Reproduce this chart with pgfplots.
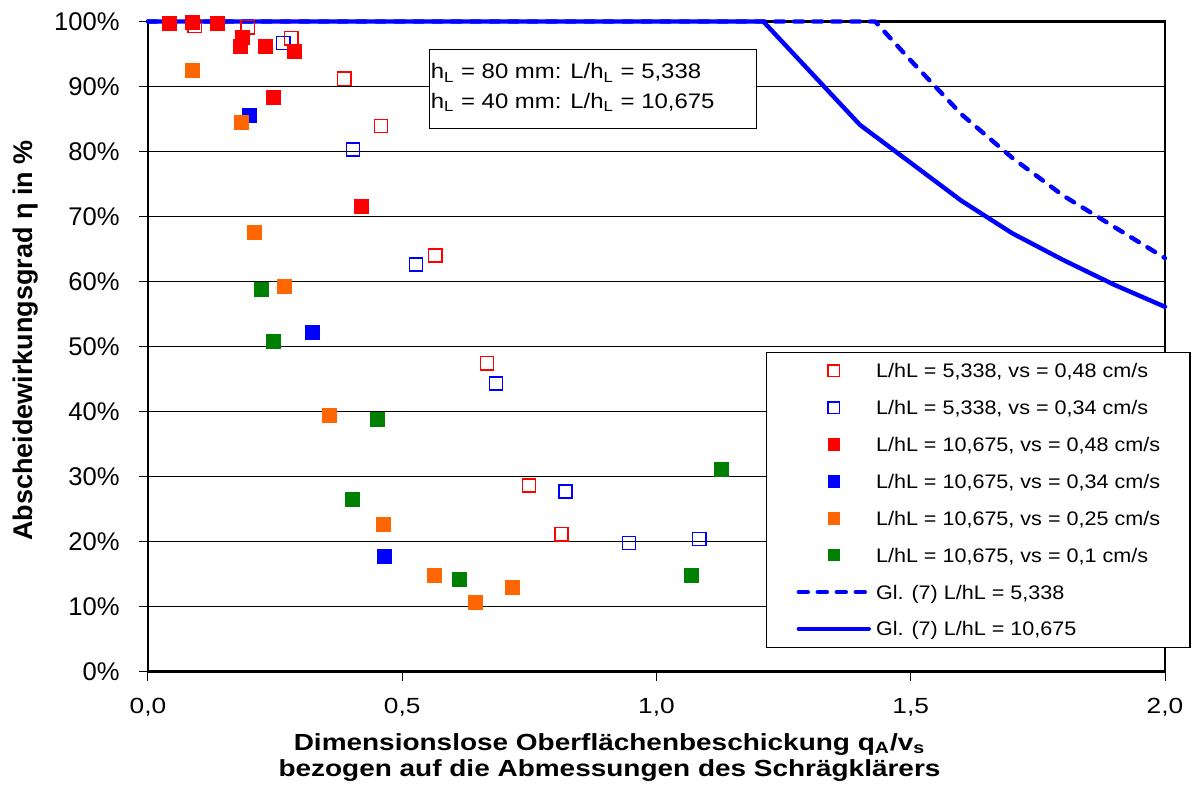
\documentclass[border=0pt]{standalone}
\usepackage{fontspec}
\setmainfont{Liberation Sans}
\newfontfamily\fA[FakeStretch=1.14]{Liberation Sans}
\newfontfamily\fL[FakeStretch=1.1]{Liberation Sans}
\newfontfamily\fX[FakeStretch=1.2]{Liberation Sans}
\usepackage{pgfplots}
\pgfplotsset{compat=1.18}
\definecolor{xlred}{RGB}{255,0,0}
\definecolor{xlblue}{RGB}{0,0,255}
\definecolor{xlorange}{RGB}{255,102,0}
\definecolor{xlgreen}{RGB}{0,128,0}
\begin{document}
\begin{tikzpicture}
\begin{axis}[
  at={(0,0)}, anchor=south west,
  scale only axis, width=508.5pt, height=325pt,
  xmin=0, xmax=2, ymin=0, ymax=100,
  clip=false,
  axis line style={black, line width=1.2pt},
  xtick={0,0.5,1,1.5,2},
  xticklabels={{0,0},{0,5},{1,0},{1,5},{2,0}},
  ytick={0,10,20,30,40,50,60,70,80,90,100},
  yticklabels={0\%,10\%,20\%,30\%,40\%,50\%,60\%,70\%,80\%,90\%,100\%},
  tick align=outside, xtick pos=left, ytick pos=left,
  major tick length=4.5pt,
  tick style={black, line width=0.5pt},
  ymajorgrids, major grid style={black, line width=0.5pt},
  yticklabel style={font=\fontsize{12.8}{14}\selectfont, anchor=east, inner sep=0pt, xshift=-9.5pt},
  xticklabel style={font=\fX\fontsize{10.95}{12}\selectfont, anchor=north, inner sep=0pt, yshift=-8.75pt},
  xlabel={Dimensionslose Oberflächenbeschickung q\textsubscript{A}/v\textsubscript{s}\\bezogen auf die Abmessungen des Schrägklärers},
  xlabel style={at={(axis description cs:0.4538,0)}, anchor=north, yshift=-30.75pt, inner sep=0pt, align=center, font=\fX\bfseries\fontsize{11.65}{13}\selectfont},
  ylabel={Abscheidewirkungsgrad η in \%},
  ylabel style={at={(axis description cs:-0.1131,0.509)}, anchor=base, rotate=0, inner sep=0pt, font=\bfseries\fontsize{13.5}{16}\selectfont},
  legend style={
    at={(0.6077,0.4920)}, anchor=north west,
    draw=black, line width=0.6pt, fill=white,
    inner xsep=15pt, inner ysep=0pt,
    row sep=0pt, column sep=2.5pt,
    font=\fL\fontsize{9.8}{11}\selectfont,
    nodes={inner xsep=0pt, inner ysep=4.72pt, text height=8pt, text depth=1pt},
  },
  legend cell align=left,
  legend image code/.code={\draw[mark repeat=2,mark phase=2,#1,mark size=2.9pt] plot coordinates {(0pt,0pt)(17.5pt,0pt)(35pt,0pt)};},
]
% model curves (drawn first, behind the markers)
\addplot[forget plot, xlblue, line width=2.2pt, line cap=round, line join=round, dash pattern=on 4.5pt off 5pt]
  coordinates {(0,100)(1.43,100)(1.5,94.0)(1.6,85.7)(1.7,79.0)(1.8,73.2)(1.9,68.4)(2.0,63.6)};
\addplot[forget plot, xlblue, line width=2.2pt, line cap=round, line join=round]
  coordinates {(0,100)(1.21,100)(1.40,84.1)(1.60,72.4)(1.70,67.4)(1.80,63.3)(1.90,59.5)(2.00,56.1)};
% L/hL = 5,338, vs = 0,48
\addplot[only marks, mark=square, mark size=3.3pt, line width=0.7pt, xlred, mark options={solid}]
  coordinates {(0.092,99.3)(0.196,99.1)(0.282,97.4)(0.386,91.2)(0.458,83.9)(0.565,64.0)(0.667,47.4)(0.749,28.6)(0.813,21.1)};
\addlegendentry{L/hL = 5,338, vs = 0,48 cm/s}
% L/hL = 5,338, vs = 0,34
\addplot[only marks, mark=square, mark size=3.3pt, line width=0.7pt, xlblue, mark options={solid}]
  coordinates {(0.266,96.7)(0.403,80.3)(0.527,62.6)(0.684,44.3)(0.821,27.7)(0.946,19.8)(1.084,20.4)};
\addlegendentry{L/hL = 5,338, vs = 0,34 cm/s}
% L/hL = 10,675, vs = 0,48
\addplot[only marks, mark=square*, mark size=3.5pt, line width=0.5pt, xlred, mark options={solid, fill=xlred}]
  coordinates {(0.042,99.7)(0.088,99.8)(0.136,99.7)(0.186,97.6)(0.181,96.1)(0.232,96.1)(0.289,95.4)(0.246,88.3)(0.420,71.5)};
\addlegendentry{L/hL = 10,675, vs = 0,48 cm/s}
% L/hL = 10,675, vs = 0,34
\addplot[only marks, mark=square*, mark size=3.5pt, line width=0.5pt, xlblue, mark options={solid, fill=xlblue}]
  coordinates {(0.200,85.6)(0.324,52.1)(0.465,17.7)};
\addlegendentry{L/hL = 10,675, vs = 0,34 cm/s}
% L/hL = 10,675, vs = 0,25
\addplot[only marks, mark=square*, mark size=3.5pt, line width=0.5pt, xlorange, mark options={solid, fill=xlorange}]
  coordinates {(0.088,92.5)(0.183,84.4)(0.210,67.6)(0.268,59.2)(0.357,39.4)(0.464,22.6)(0.563,14.8)(0.644,10.6)(0.717,12.9)};
\addlegendentry{L/hL = 10,675, vs = 0,25 cm/s}
% L/hL = 10,675, vs = 0,1
\addplot[only marks, mark=square*, mark size=3.5pt, line width=0.5pt, xlgreen, mark options={solid, fill=xlgreen}]
  coordinates {(0.223,58.8)(0.246,50.7)(0.452,38.8)(0.402,26.4)(0.612,14.1)(1.069,14.8)(1.128,31.0)};
\addlegendentry{L/hL = 10,675, vs = 0,1 cm/s}
\addlegendimage{xlblue, line width=2.2pt, line cap=round, dash pattern=on 4.5pt off 5pt}
\addlegendentry{Gl. (7) L/hL = 5,338}
\addlegendimage{xlblue, line width=2.2pt, line cap=round}
\addlegendentry{Gl. (7) L/hL = 10,675}
\end{axis}
\draw[black, line width=0.5pt, fill=white] (140.65pt,271.6pt) rectangle (304.35pt,311.1pt);
\node[anchor=base west, inner sep=0pt, font=\fA\fontsize{10.5}{12}\selectfont] at (141.2pt,296.25pt) {h\textsubscript{L} = 80 mm: L/h\textsubscript{L} = 5,338};
\node[anchor=base west, inner sep=0pt, font=\fA\fontsize{10.5}{12}\selectfont] at (141.2pt,281.6pt) {h\textsubscript{L} = 40 mm: L/h\textsubscript{L} = 10,675};
\pgfresetboundingbox
\path[use as bounding box] (-74pt,-57.75pt) rectangle (522.5pt,335.75pt);
\end{tikzpicture}
\end{document}
